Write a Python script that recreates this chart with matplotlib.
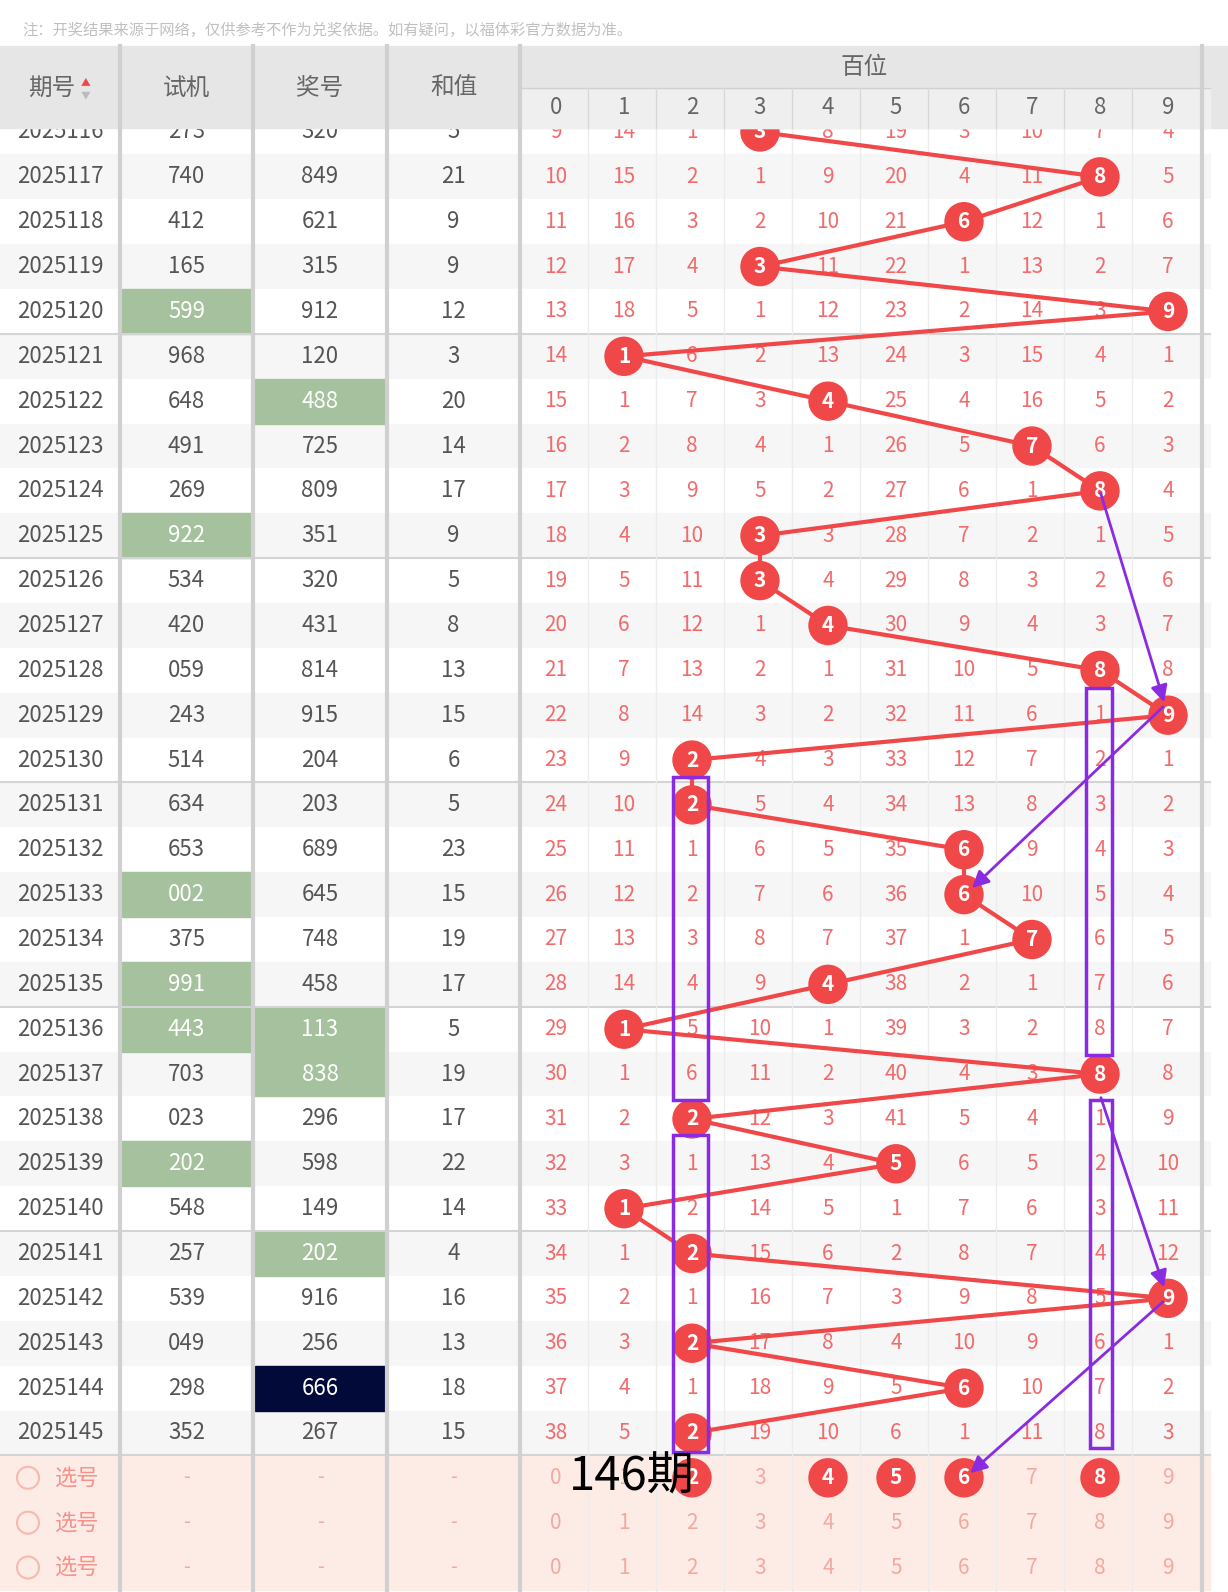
import matplotlib.pyplot as plt
from matplotlib.patches import Rectangle, Circle

plt.rcParams['font.family'] = ['Noto Sans CJK SC', 'DejaVu Sans']

issues = [f"2025{n}" for n in range(116, 146)]
trial = ["273", "740", "412", "165", "599", "968", "648", "491", "269", "922",
         "534", "420", "059", "243", "514", "634", "653", "002", "375", "991",
         "443", "703", "023", "202", "548", "257", "539", "049", "298", "352"]
draw = ["320", "849", "621", "315", "912", "120", "488", "725", "809", "351",
        "320", "431", "814", "915", "204", "203", "689", "645", "748", "458",
        "113", "838", "296", "598", "149", "202", "916", "256", "666", "267"]
sums = [5, 21, 9, 9, 12, 3, 20, 14, 17, 9, 5, 8, 13, 15, 6, 5, 23, 15, 19, 17,
        5, 19, 17, 22, 14, 4, 16, 13, 18, 15]
# omission of each hundreds digit (hit cells hold the digit itself)
omission = [
    [9, 14, 1, 3, 8, 19, 3, 10, 7, 4],
    [10, 15, 2, 1, 9, 20, 4, 11, 8, 5],
    [11, 16, 3, 2, 10, 21, 6, 12, 1, 6],
    [12, 17, 4, 3, 11, 22, 1, 13, 2, 7],
    [13, 18, 5, 1, 12, 23, 2, 14, 3, 9],
    [14, 1, 6, 2, 13, 24, 3, 15, 4, 1],
    [15, 1, 7, 3, 4, 25, 4, 16, 5, 2],
    [16, 2, 8, 4, 1, 26, 5, 7, 6, 3],
    [17, 3, 9, 5, 2, 27, 6, 1, 8, 4],
    [18, 4, 10, 3, 3, 28, 7, 2, 1, 5],
    [19, 5, 11, 3, 4, 29, 8, 3, 2, 6],
    [20, 6, 12, 1, 4, 30, 9, 4, 3, 7],
    [21, 7, 13, 2, 1, 31, 10, 5, 8, 8],
    [22, 8, 14, 3, 2, 32, 11, 6, 1, 9],
    [23, 9, 2, 4, 3, 33, 12, 7, 2, 1],
    [24, 10, 2, 5, 4, 34, 13, 8, 3, 2],
    [25, 11, 1, 6, 5, 35, 6, 9, 4, 3],
    [26, 12, 2, 7, 6, 36, 6, 10, 5, 4],
    [27, 13, 3, 8, 7, 37, 1, 7, 6, 5],
    [28, 14, 4, 9, 4, 38, 2, 1, 7, 6],
    [29, 1, 5, 10, 1, 39, 3, 2, 8, 7],
    [30, 1, 6, 11, 2, 40, 4, 3, 8, 8],
    [31, 2, 2, 12, 3, 41, 5, 4, 1, 9],
    [32, 3, 1, 13, 4, 5, 6, 5, 2, 10],
    [33, 1, 2, 14, 5, 1, 7, 6, 3, 11],
    [34, 1, 2, 15, 6, 2, 8, 7, 4, 12],
    [35, 2, 1, 16, 7, 3, 9, 8, 5, 9],
    [36, 3, 2, 17, 8, 4, 10, 9, 6, 1],
    [37, 4, 1, 18, 9, 5, 6, 10, 7, 2],
    [38, 5, 2, 19, 10, 6, 1, 11, 8, 3],
]
green_trial = ["2025120", "2025125", "2025133", "2025135", "2025136", "2025139"]
green_draw = ["2025122", "2025136", "2025137", "2025141"]
navy_draw = ["2025144"]
pick_hits = [2, 4, 5, 6, 8]

RED = "#f04848"
TXT = "#f26a6a"
GREEN = "#a5c19d"
ROW_H = 44.86
ROW0 = 132
col_x = [556 + 68 * d for d in range(10)]
left_cols = [(0, 120), (120, 253), (253, 387), (387, 520)]


def row_y(i):
    return ROW0 + i * ROW_H


fig = plt.figure(figsize=(12.28, 15.92), dpi=100)
ax = fig.add_axes([0, 0, 1, 1])
ax.set_xlim(0, 1228)
ax.set_ylim(1592, 0)
ax.axis("off")

# rows
for i, issue in enumerate(issues):
    y = row_y(i)
    bg = "#f6f6f6" if i % 2 == 1 else "white"
    ax.add_patch(Rectangle((0, y - ROW_H / 2), 1210, ROW_H, color=bg, zorder=0))
    if issue in green_trial:
        ax.add_patch(Rectangle((122, y - ROW_H / 2), 130, ROW_H, color=GREEN, zorder=1))
    if issue in green_draw or issue in navy_draw:
        c = "#020a3a" if issue in navy_draw else GREEN
        ax.add_patch(Rectangle((255, y - ROW_H / 2), 130, ROW_H, color=c, zorder=1))
    vals = [issue, trial[i], draw[i], str(sums[i])]
    for k, (a, b) in enumerate(left_cols):
        white = (k == 1 and issue in green_trial) or (k == 2 and (issue in green_draw or issue in navy_draw))
        ax.text((a + b) / 2, y, vals[k], ha="center", va="center", fontsize=16,
                color="white" if white else "#555555", zorder=3)
    hit = int(draw[i][0])
    for d in range(10):
        if d == hit:
            ax.add_patch(Circle((col_x[d], y), 19, color=RED, zorder=5))
            ax.text(col_x[d], y, str(d), ha="center", va="center", fontsize=15,
                    color="white", fontweight="bold", zorder=6)
        else:
            ax.text(col_x[d], y, str(omission[i][d]), ha="center", va="center",
                    fontsize=15, color=TXT, zorder=3)
    if (i % 5) == 4:
        ax.plot([0, 1210], [y + ROW_H / 2] * 2, color="#d4d4d4", lw=1.5, zorder=2)

hx = [col_x[int(s[0])] for s in draw]
hy = [row_y(i) for i in range(len(draw))]
ax.plot(hx, hy, color=RED, lw=3, zorder=4)

# pick rows
for j in range(3):
    y = row_y(len(issues) + j)
    ax.add_patch(Rectangle((0, y - ROW_H / 2), 1210, ROW_H, color="#fdebe6", zorder=0))
    ax.add_patch(Circle((28, y), 11, fill=False, ec="#f7b9b0", lw=1.5, zorder=3))
    ax.text(55, y, "选号", ha="left", va="center", fontsize=16, color="#f5928a", zorder=3)
    for k in range(1, 4):
        a, b = left_cols[k]
        ax.text((a + b) / 2, y, "-", ha="center", va="center", fontsize=14, color="#f5a8a0", zorder=3)
    for d in range(10):
        if j == 0 and d in pick_hits:
            ax.add_patch(Circle((col_x[d], y), 19, color=RED, zorder=5))
            ax.text(col_x[d], y, str(d), ha="center", va="center", fontsize=15,
                    color="white", fontweight="bold", zorder=6)
        else:
            ax.text(col_x[d], y, str(d), ha="center", va="center", fontsize=15, color="#f5a8a0", zorder=3)
ax.text(632, row_y(len(issues)), "146期", ha="center", va="center", fontsize=34, color="black", zorder=9)

# column separators
for x in [120, 253, 387, 520, 1202]:
    ax.plot([x, x], [48, 1592], color="#d0d0d0", lw=3, zorder=2)
for d in range(1, 10):
    x = 520 + 68 * d
    ax.plot([x, x], [88, 1592], color="#ececec", lw=1, zorder=2)

# purple marks
PUR = "#8a2be2"
for x0, y0, x1, y1 in [(673, 777, 708, 1100), (1086, 688, 1112, 1055),
                       (673, 1135, 708, 1452), (1090, 1100, 1112, 1448)]:
    ax.add_patch(Rectangle((x0, y0), x1 - x0, y1 - y0, fill=False, ec=PUR, lw=2.5, zorder=7))
for (x0, y0), (x1, y1) in [((1100, 491), (1165, 705)), ((1165, 705), (970, 890)),
                           ((1100, 1095), (1165, 1290)), ((1165, 1300), (968, 1475))]:
    ax.annotate("", xy=(x1, y1), xytext=(x0, y0), zorder=8,
                arrowprops=dict(arrowstyle="-|>", color=PUR, lw=2, mutation_scale=25))

# header
ax.add_patch(Rectangle((0, 0), 1228, 46, color="white", zorder=10))
ax.text(22, 30, "注：开奖结果来源于网络，仅供参考不作为兑奖依据。如有疑问，以福体彩官方数据为准。",
        ha="left", va="center", fontsize=11, color="#c0c0c0", zorder=11)
ax.add_patch(Rectangle((0, 46), 1228, 82, color="#e6e6e6", zorder=10))
ax.add_patch(Rectangle((520, 88), 690, 40, color="#efefef", zorder=10))
for k, label in enumerate(["期号", "试机", "奖号", "和值"]):
    a, b = left_cols[k]
    ax.text((a + b) / 2 - (8 if k == 0 else 0), 88, label, ha="center", va="center",
            fontsize=17, color="#666666", zorder=11)
ax.text(86, 82, "▲", ha="center", va="center", fontsize=7, color="#f04848", zorder=11)
ax.text(86, 95, "▼", ha="center", va="center", fontsize=7, color="#bbbbbb", zorder=11)
ax.text(864, 68, "百位", ha="center", va="center", fontsize=17, color="#666666", zorder=11)
for d in range(10):
    ax.text(col_x[d], 108, str(d), ha="center", va="center", fontsize=16, color="#666666", zorder=11)
ax.plot([520, 1210], [88, 88], color="#d0d0d0", lw=1, zorder=11)
for x in [120, 253, 387, 520, 1202]:
    ax.plot([x, x], [46, 128], color="#d0d0d0", lw=3, zorder=11)
for d in range(1, 10):
    x = 520 + 68 * d
    ax.plot([x, x], [88, 128], color="#d8d8d8", lw=1, zorder=11)

fig.savefig("out.png", dpi=100)
